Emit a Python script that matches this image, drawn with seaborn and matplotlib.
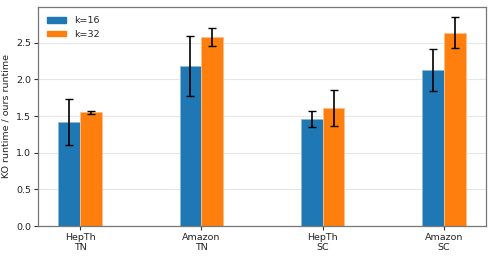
import numpy as np
import pandas as pd
import matplotlib
matplotlib.use("Agg")
import matplotlib.pyplot as plt
import matplotlib.colors as mcolors
import seaborn as sns

categories = ["HepTh\nTN", "Amazon\nTN", "HepTh\nSC", "Amazon\nSC"]
series = ["k=16", "k=32"]
k16_vals = [1.42, 2.18, 1.46, 2.13]
k32_vals = [1.55, 2.58, 1.61, 2.64]
k16_err = [0.32, 0.41, 0.11, 0.29]
k32_err = [0.02, 0.12, 0.24, 0.21]

df = pd.DataFrame({
    "cat": categories * 2,
    "k": [series[0]] * 4 + [series[1]] * 4,
    "val": k16_vals + k32_vals,
    "err": k16_err + k32_err,
})

sns.set_style("white")
plt.rcParams["font.family"] = ["DejaVu Sans"]
plt.rcParams["text.color"] = "#222222"
plt.rcParams["axes.labelcolor"] = "#222222"
plt.rcParams["xtick.color"] = "#222222"
plt.rcParams["ytick.color"] = "#222222"

fig, ax = plt.subplots(figsize=(4.93, 2.56), dpi=100)
fig.subplots_adjust(left=0.077, right=0.986, top=0.973, bottom=0.117)

palette = ["#1f77b4", "#ff7f0e"]
sns.barplot(data=df, x="cat", y="val", hue="k", palette=palette,
            width=0.36, errorbar=None, ax=ax, saturation=1)

for cont, col in zip(ax.containers, palette):
    light = tuple(0.5 * np.array(mcolors.to_rgb(col)) + 0.5)
    for p in cont:
        p.set_edgecolor(light)
        p.set_linewidth(0.6)

# error bars positioned on the bar centers
for cont, errs in zip(ax.containers, [k16_err, k32_err]):
    xs = [p.get_x() + p.get_width() / 2 for p in cont]
    ys = [p.get_height() for p in cont]
    ax.errorbar(xs, ys, yerr=errs, fmt="none", ecolor="black",
                elinewidth=1.2, capsize=3, capthick=1.0, zorder=5)

ax.set_xlim(-0.348, 3.348)
ax.set_ylim(0, 2.99)
ax.set_yticks([0.0, 0.5, 1.0, 1.5, 2.0, 2.5])
ax.set_yticklabels(["0.0", "0.5", "1.0", "1.5", "2.0", "2.5"])
ax.yaxis.grid(True, color="#e6e6e6", linewidth=0.8)
ax.set_axisbelow(True)
ax.set_xlabel("")
ax.set_ylabel("KO runtime / ours runtime", fontsize=6.8)
ax.tick_params(axis="both", labelsize=6.8, length=3, width=0.8,
               left=True, bottom=True, color="#333333", pad=2)
for s in ax.spines.values():
    s.set_color("#777777")
    s.set_linewidth(0.9)

leg = ax.legend(loc="upper left", frameon=False, fontsize=6.8,
                handleheight=0.5, handlelength=2.0, borderaxespad=0.6,
                labelspacing=0.5)
for h, col in zip(leg.legend_handles, palette):
    h.set_edgecolor(col)

fig.savefig("out.png", dpi=100)
